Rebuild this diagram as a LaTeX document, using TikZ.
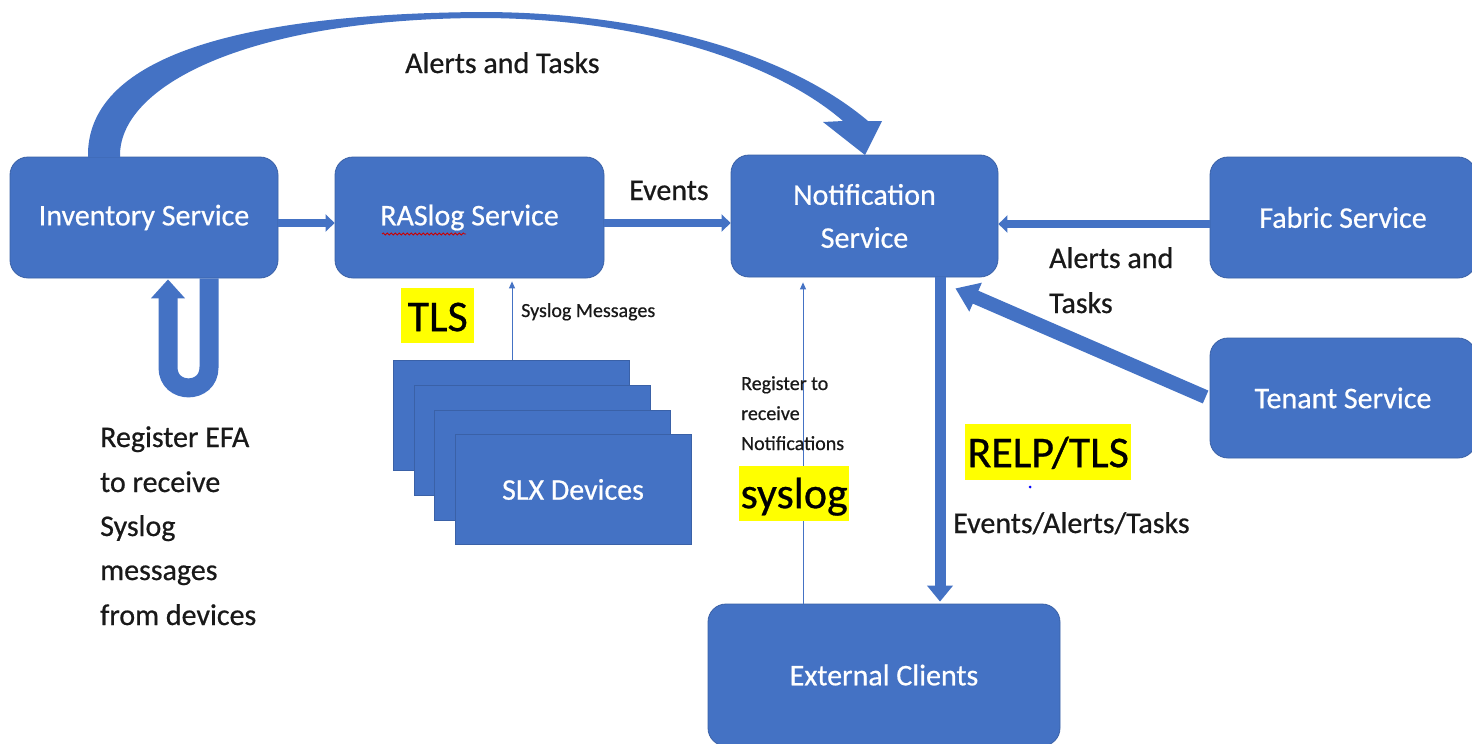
\documentclass[tikz,border=0pt]{standalone}
\usepackage{fontspec}
\setmainfont{Carlito}[FakeBold=0.6]
\usetikzlibrary{arrows.meta,decorations.pathmorphing}
\definecolor{boxblue}{HTML}{4472C4}
\definecolor{hl}{HTML}{FFFF00}
\begin{document}
\begin{tikzpicture}[x=1pt,y=-1pt,
  svc/.style={fill=boxblue, draw=boxblue!85!black, line width=0.8pt, rounded corners=18pt,
    text=white, font=\fontsize{30}{43}\selectfont, align=center, inner sep=0pt},
  slxbox/.style={fill=boxblue, draw=boxblue!85!black, line width=0.8pt,
    minimum width=236pt, minimum height=110pt, inner sep=0pt},
  lbl/.style={font=\fontsize{30}{35}\selectfont, inner sep=0pt, text=black!90},
  small/.style={font=\fontsize{20}{23}\selectfont, inner sep=0pt, text=black!90},
  hlbox/.style={fill=hl, inner sep=0pt, anchor=north west, font=\fontsize{44}{50}\selectfont, text=black},
  blk/.style={draw=boxblue, line width=8pt, -{Triangle[length=9pt,width=17pt]}},
  thinarrow/.style={draw=boxblue, line width=1pt, -{Triangle[length=7pt,width=6pt]}},
]
\clip (0,0) rectangle (1472,744);
\fill[white] (0,0) rectangle (1472,744);

% service boxes
\node[svc, minimum width=268pt, minimum height=121pt] (inv) at (144,217.5) {Inventory Service};
\node[svc, minimum width=269pt, minimum height=121pt] (ras) at (469.5,217.5) {RASlog Service};
\node[svc, minimum width=267pt, minimum height=122pt] (notif) at (864.5,216) {Notification\\Service};
\node[svc, minimum width=266pt, minimum height=121pt] (fabric) at (1343,217.5) {Fabric Service};
\node[svc, minimum width=266pt, minimum height=120pt] (tenant) at (1343,398) {Tenant Service};
\node[svc, minimum width=352pt, minimum height=142pt] (ext) at (884,675) {External Clients};

% SLX device stack
\node[slxbox] (slx1) at (511,415.5) {};
\node[slxbox] (slx2) at (532,440) {};
\node[slxbox] (slx3) at (552,465) {};
\node[slxbox, text=white, font=\fontsize{30}{35}\selectfont] (slx4) at (573,489.5) {SLX Devices};

% spell-check squiggle under RASlog
\draw[red!80!black, line width=0.8pt, decorate, decoration={snake, amplitude=1pt, segment length=4pt}]
  (382,234) -- (466,234);

% big curved arrow (Alerts and Tasks)
\fill[boxblue] (88,157) .. controls (86,60) and (230,14) .. (480,12)
  .. controls (650,12) and (790,55) .. (868,121) -- (882,121) -- (865,155) -- (823,122) -- (843,121)
  .. controls (775,62) and (640,18) .. (480,18)
  .. controls (250,19) and (118,85) .. (120,157) -- cycle;

% connectors
\draw[blk] ([shift={(0,5.5)}]inv.east) -- ([shift={(0,5.5)}]ras.west);
\draw[blk] ([shift={(0,5.5)}]ras.east) -- ([shift={(0,7)}]notif.west);
\draw[blk] ([shift={(0,6.5)}]fabric.west) -- ([shift={(0,8)}]notif.east);
\draw[draw=boxblue, line width=14pt, -{Triangle[length=22pt,width=30pt]}]
  ([shift={(-4,-1)}]tenant.west) -- ([shift={(-43,11)}]notif.south east);
\draw[draw=boxblue, line width=11pt, -{Triangle[length=16pt,width=25pt]}]
  ([shift={(75.5,0)}]notif.south) -- ([shift={(56,-2)}]ext.north);
\draw[thinarrow] ([shift={(-81,0)}]ext.north) -- ([shift={(-61.5,5)}]notif.south);
\draw[thinarrow] ([shift={(1,0)}]slx1.north) -- ([shift={(42.5,3)}]ras.south);
% U-turn under Inventory Service
\draw[draw=boxblue, line width=19pt, -{Triangle[length=19pt,width=33pt]}]
  ([shift={(65,0)}]inv.south) -- ++(0,89) .. controls +(0,27.3) and +(0,27.3) .. ++(-41,0) -- ++(0,-88);

% labels
\node[lbl, anchor=base west] (lalerts) at (405,73) {Alerts and Tasks};
\node[lbl, anchor=base west] (levents) at (629,200) {Events};
\node[lbl, anchor=base west] (lfab1) at (1049,268) {Alerts and};
\node[lbl, anchor=base west] (lfab2) at (1049,313) {Tasks};
\node[lbl, anchor=base west] (lreg1) at (100,447) {Register EFA};
\node[lbl, anchor=base west] (lreg2) at (100,492) {to receive};
\node[lbl, anchor=base west] (lreg3) at (100,536) {Syslog};
\node[lbl, anchor=base west] (lreg4) at (100,580) {messages};
\node[lbl, anchor=base west] (lreg5) at (100,625) {from devices};
\node[small, anchor=base west] (lsys) at (521,317) {Syslog Messages};
\node[small, anchor=base west] (lrn1) at (741,390) {Register to};
\node[small, anchor=base west] (lrn2) at (741,420) {receive};
\node[small, anchor=base west] (lrn3) at (741,450) {Notifications};
\node[lbl, anchor=base west] (leat) at (953,533) {Events/Alerts/Tasks};

% highlighted labels
\node[hlbox, minimum width=73pt, text height=43pt, text depth=12pt] (htls) at (401,288) {TLS};
\node[hlbox, minimum width=110pt, text height=42pt, text depth=13pt] (hsys) at (739,466) {syslog};
\node[hlbox, minimum width=166pt, text height=43pt, text depth=13pt] (hrelp) at (965,424) {RELP/TLS};

\fill[blue] (1030,487) circle (1.5);
\end{tikzpicture}
\end{document}
